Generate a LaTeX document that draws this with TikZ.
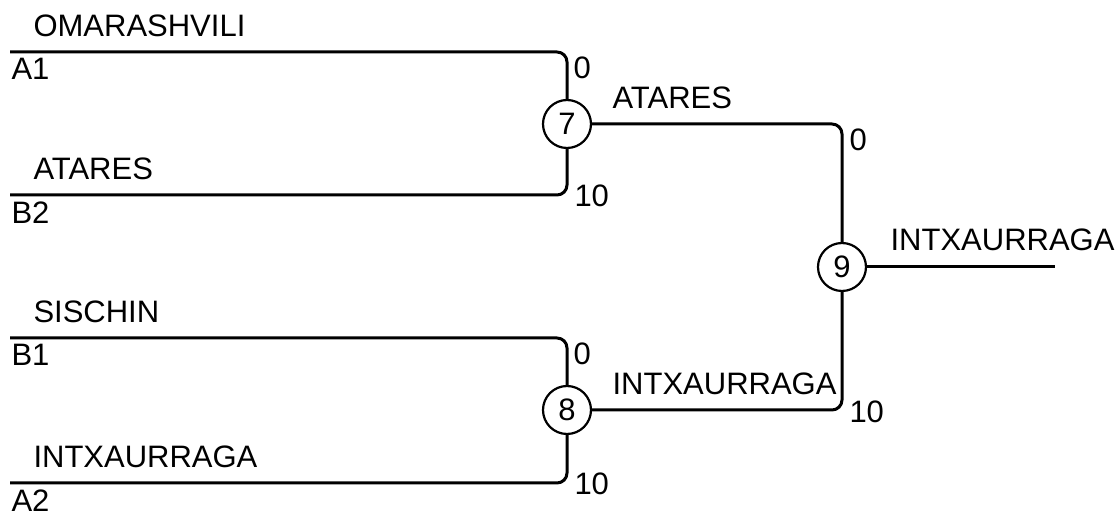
\documentclass[tikz,border=0pt]{standalone}
\usepackage{fontspec}
\setmainfont{Liberation Sans}
\usetikzlibrary{positioning}

\begin{document}
\begin{tikzpicture}[x=0.5bp, y=-0.5bp, line width=1.5bp, every node/.style={font=\fontsize{15.5bp}{18bp}\selectfont, inner sep=0pt},
 match/.style={circle, draw, line width=1.1bp, minimum size=24bp},
 team/.style={anchor=base west},
 slot/.style={anchor=north west},
 score/.style={anchor=north west}
]
 \tikzstyle{link}=[rounded corners=5bp];
\useasboundingbox (0,0) rectangle (1120,513);

\node[match] (m7) at (567,124) {7};
\node[match] (m8) at (567,410) {8};
\node[match] (m9) at (842,267) {9};

\coordinate (a1) at (10,52);
\coordinate (b2) at (10,195);
\coordinate (b1) at (10,338);
\coordinate (a2) at (10,483);
\coordinate (win) at (1055,267);
\coordinate (c7a) at (567,52);
\coordinate (c7b) at (567,195);
\coordinate (c8a) at (567,338);
\coordinate (c8b) at (567,483);
\coordinate (c9a) at (842,124);
\coordinate (c9b) at (842,410);

% first round
\draw[link] (a1) -| (m7.north);
\draw[link] (b2) -| (m7.south);
\draw[link] (b1) -| (m8.north);
\draw[link] (a2) -| (m8.south);
% final
\draw[link] (m7.east) -| (m9.north);
\draw[link] (m8.east) -| (m9.south);
\draw (m9.east) -- (win);

% teams
\path (a1) ++(22,-15) node[team] (t-a1) {OMARASHVILI};
\path (b2) ++(22,-15) node[team] (t-b2) {ATARES};
\path (b1) ++(22,-15) node[team] (t-b1) {SISCHIN};
\path (a2) ++(22,-15) node[team] (t-a2) {INTXAURRAGA};
\path (m7.east) ++(19,-15) node[team] (t-m7) {ATARES};
\path (m8.east) ++(19,-15) node[team] (t-m8) {INTXAURRAGA};
\path (m9.east) ++(22,-16) node[team] (t-m9) {INTXAURRAGA};

% slots
\path (a1) ++(0,5) node[slot] (s-a1) {A1};
\path (b2) ++(0,5) node[slot] (s-b2) {B2};
\path (b1) ++(0,5) node[slot] (s-b1) {B1};
\path (a2) ++(0,5) node[slot] (s-a2) {A2};

% scores
\path (c7a) ++(5,3) node[score] (p7a) {0};
\path (c7b) ++(6,-12) node[score] (p7b) {10};
\path (c8a) ++(5,3) node[score] (p8a) {0};
\path (c8b) ++(6,-12) node[score] (p8b) {10};
\path (c9a) ++(6,3) node[score] (p9a) {0};
\path (c9b) ++(6,-11) node[score] (p9b) {10};

\end{tikzpicture}
\end{document}
